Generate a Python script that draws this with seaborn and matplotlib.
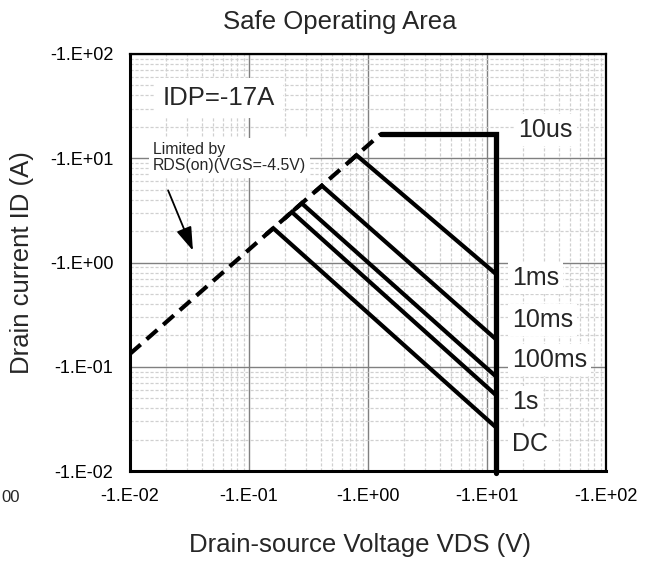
import matplotlib
matplotlib.use("Agg")
import matplotlib.pyplot as plt
import numpy as np
import pandas as pd
import seaborn as sns
from matplotlib.ticker import FixedLocator, FuncFormatter, LogLocator, NullFormatter

# --- values (magnitudes, axis labels carry the minus sign) ---
rds_vds = [0.01, 1.275]          # RDS(on) limit, dashed
rds_id = [0.133, 17.0]

limit_vds = [1.275, 12.0, 12.0]  # 10us / IDP / VDS max outline
limit_id = [17.0, 17.0, 0.0095]

pulse_names = ["1ms", "10ms", "100ms", "1s", "DC"]
pulse_vds = [
    [0.70, 0.80, 12.0],
    [0.36, 0.41, 12.0],
    [0.24, 0.277, 12.0],
    [0.20, 0.229, 12.0],
    [0.14, 0.16, 12.0],
]
pulse_id = [
    [9.3, 10.7, 0.77],
    [4.8, 5.45, 0.182],
    [3.2, 3.7, 0.080],
    [2.65, 3.05, 0.053],
    [1.87, 2.13, 0.026],
]

label_names = ["10us", "1ms", "10ms", "100ms", "1s", "DC"]
label_y = [0.818, 0.463, 0.362, 0.266, 0.165, 0.065]  # axes fraction
decades = [0.01, 0.1, 1, 10, 100]


def neg_exp(v, pos):
    e = int(round(np.log10(v)))
    return f"-1.E{e:+03d}"


def main():
    sns.set_theme(style="white")
    plt.rcParams["font.family"] = ["Liberation Sans", "DejaVu Sans"]

    fig = plt.figure(figsize=(6.56, 5.62), dpi=100)
    ax = fig.add_axes([130 / 656, 1 - 471 / 562, 476 / 656, 417 / 562])
    ax.set_xscale("log")
    ax.set_yscale("log")
    ax.set_xlim(0.01, 100)
    ax.set_ylim(0.01, 100)

    # grid
    for axis in (ax.xaxis, ax.yaxis):
        axis.set_major_locator(FixedLocator(decades))
        axis.set_minor_locator(LogLocator(base=10, subs=np.arange(2, 10)))
        axis.set_major_formatter(FuncFormatter(neg_exp))
        axis.set_minor_formatter(NullFormatter())
    ax.grid(True, which="major", color="#808080", lw=1.0, ls="-")
    ax.grid(True, which="minor", color="#d0d0d0", lw=0.9, ls=(0, (2.5, 1.5)))
    ax.set_axisbelow(True)
    ax.tick_params(which="both", length=0, labelsize=13, pad=12, colors="black")
    for sp in ax.spines.values():
        sp.set_color("black")
        sp.set_linewidth(1.6)
    ax.spines["left"].set_linewidth(2.2)
    ax.spines["bottom"].set_linewidth(2.2)

    # curves
    rds = pd.DataFrame({"VDS": rds_vds, "ID": rds_id})
    sns.lineplot(data=rds, x="VDS", y="ID", sort=False, estimator=None, ax=ax,
                 color="black", lw=3.0, dashes=False, linestyle=(0, (3.4, 1.9)))

    for name, v, i in zip(pulse_names, pulse_vds, pulse_id):
        df = pd.DataFrame({"VDS": v, "ID": i})
        sns.lineplot(data=df, x="VDS", y="ID", sort=False, estimator=None, ax=ax,
                     color="black", lw=3.0, solid_joinstyle="miter")

    lim = pd.DataFrame({"VDS": limit_vds, "ID": limit_id})
    sns.lineplot(data=lim, x="VDS", y="ID", sort=False, estimator=None, ax=ax,
                 color="black", lw=3.8, clip_on=False, solid_joinstyle="miter")

    # annotations
    box = dict(facecolor="white", edgecolor="none", pad=3)
    for j, (name, fy) in enumerate(zip(label_names, label_y)):
        fx = 0.815 if j == 0 else 0.8025
        ax.text(fx, fy, name, transform=ax.transAxes, ha="left", va="center",
                fontsize=18, bbox=box, zorder=5)
    ax.text(0.069, 0.894, "IDP=-17A", transform=ax.transAxes, ha="left",
            va="center", fontsize=18.5, bbox=dict(facecolor="white", edgecolor="none", pad=6))
    ax.text(0.048, 0.751, "Limited by\nRDS(on)(VGS=-4.5V)", transform=ax.transAxes,
            ha="left", va="center", fontsize=11.4, linespacing=1.1,
            bbox=dict(facecolor="white", edgecolor="none", pad=3))
    ax.annotate("", xy=(0.0338, 1.30), xytext=(0.0209, 4.92),
                arrowprops=dict(arrowstyle="-|>,head_length=1.2,head_width=0.4",
                                color="black", lw=1.3, shrinkA=0, shrinkB=0))

    ax.set_xlabel("Drain-source Voltage VDS (V)", fontsize=18.5, va="center")
    ax.set_ylabel("Drain current ID (A)", fontsize=18.5, va="center")
    ax.xaxis.set_label_coords(0.483, -0.177)
    ax.yaxis.set_label_coords(-0.227, 0.501)
    fig.text(340 / 656, 1 - 22 / 562, "Safe Operating Area", ha="center",
             va="center", fontsize=18.5)
    # stray fragment of a clipped tick label at the bottom-left of the reference
    fig.text(1 / 656, 1 - 497 / 562, "00", ha="left", va="center", fontsize=12)

    fig.savefig("out.png", dpi=100)


if __name__ == "__main__":
    main()
